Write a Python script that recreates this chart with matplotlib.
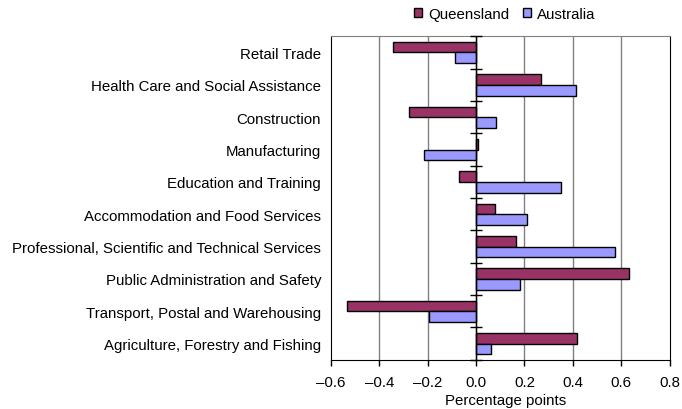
import matplotlib.pyplot as plt
import numpy as np

plt.rcParams['font.family'] = ['Liberation Sans', 'DejaVu Sans']

categories = ['Retail Trade', 'Health Care and Social Assistance', 'Construction',
              'Manufacturing', 'Education and Training',
              'Accommodation and Food Services',
              'Professional, Scientific and Technical Services',
              'Public Administration and Safety',
              'Transport, Postal and Warehousing',
              'Agriculture, Forestry and Fishing']
queensland = [-0.345, 0.267, -0.276, 0.008, -0.07, 0.077, 0.165, 0.632, -0.533, 0.419]
australia = [-0.087, 0.411, 0.084, -0.213, 0.352, 0.209, 0.573, 0.18, -0.195, 0.06]
xticks = [-0.6, -0.4, -0.2, 0.0, 0.2, 0.4, 0.6, 0.8]

fig = plt.figure(figsize=(6.82, 4.10), dpi=100)
ax = fig.add_axes([0.485, 0.12, 0.497, 0.789])

y = np.arange(len(categories))
h = 0.33
ax.barh(y - h / 2, queensland, height=h, color='#993366', edgecolor='black',
        linewidth=1, label='Queensland', zorder=3)
ax.barh(y + h / 2, australia, height=h, color='#9999FF', edgecolor='black',
        linewidth=1, label='Australia', zorder=3)

ax.set_xlim(-0.6, 0.8)
ax.set_ylim(len(categories) - 0.5, -0.5)
ax.set_xticks(xticks)
ax.set_xticklabels([f'{v:.1f}'.replace('-', '\u2013') for v in xticks], fontsize=10.8)
ax.set_yticks(y)
ax.set_yticklabels(categories, fontsize=10.8)
ax.tick_params(axis='y', length=0, pad=7)
ax.tick_params(axis='x', direction='out', length=4, width=1, pad=7)

for v in xticks[1:-1]:
    ax.axvline(v, color='#808080', linewidth=1, zorder=1)
ax.axvline(0, color='black', linewidth=1, zorder=4)
# small category ticks across the zero line
ax.plot(np.zeros(len(categories) + 1), np.arange(len(categories) + 1) - 0.5,
        linestyle='none', marker='_', markersize=8, color='black',
        markeredgewidth=1, zorder=5, clip_on=False)

for s in ['left', 'bottom', 'right']:
    ax.spines[s].set_color('black')
ax.spines['top'].set_color('#808080')

ax.set_xlabel('Percentage points', fontsize=10.8)
ax.xaxis.set_label_coords(0.516, -0.103)

ax.legend(loc='center', bbox_to_anchor=(0.513, 1.07), ncol=2, frameon=False,
          fontsize=10.8, handlelength=0.55, handleheight=0.55, handletextpad=0.4,
          columnspacing=0.9, borderpad=0.2)

fig.savefig('out.png', dpi=100)
